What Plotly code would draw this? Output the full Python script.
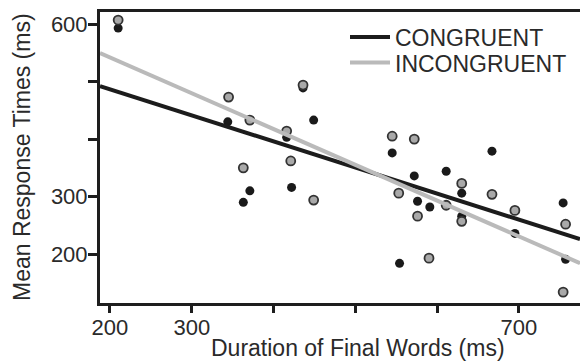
import numpy as np
import plotly.graph_objects as go

# Per-item durations (ms) and mean response times (ms)
cong_dur = [210, 344, 436, 449, 416, 422, 371, 363, 545, 572,
            611, 630, 576, 591, 630, 554, 667, 695, 754, 757]
cong_rt = [593, 430, 489, 433, 403, 316, 310, 290, 376, 336,
           344, 306, 292, 282, 266, 184, 379, 236, 289, 191]

incong_dur = [210, 345, 371, 436, 416, 421, 363, 449, 545, 572,
              630, 553, 611, 576, 630, 590, 667, 695, 757, 754]
incong_rt = [607, 473, 433, 494, 414, 362, 350, 294, 405, 400,
             323, 306, 285, 266, 257, 193, 304, 276, 252, 134]

# Linear fits: [intercept, slope]
cong_fit = [577.4, -0.4535]
incong_fit = [666.5, -0.6225]

x_range = [187.8, 774.6]
y_range = [115, 621]

x_ticks = [200, 300, 400, 500, 600, 700]
x_ticktext = ["200", "300", "", "", "", "700"]
y_ticks = [200, 300, 400, 500, 600]
y_ticktext = ["200", "300", "", "", "600"]

FONT = "Liberation Sans, Arial, Helvetica, sans-serif"
TEXT = "#2a2a2a"
AXIS = "#1e1e1e"

fit_x = np.array(x_range)

fig = go.Figure()

# Scatter points (congruent: solid black; incongruent: grey with dark rim)
fig.add_trace(go.Scatter(
    x=cong_dur, y=cong_rt, mode="markers", showlegend=False,
    marker=dict(size=9, color="#1a1a1a", line=dict(width=0)),
))
fig.add_trace(go.Scatter(
    x=incong_dur, y=incong_rt, mode="markers", showlegend=False,
    marker=dict(size=9, color="#a9a9a9", line=dict(width=1.8, color="#333333")),
))

# Regression lines, each with its own legend box
fig.add_trace(go.Scatter(
    x=fit_x, y=cong_fit[0] + cong_fit[1] * fit_x, mode="lines",
    name="CONGRUENT", line=dict(color="#1c1c1c", width=4), legend="legend",
))
fig.add_trace(go.Scatter(
    x=fit_x, y=incong_fit[0] + incong_fit[1] * fit_x, mode="lines",
    name="INCONGRUENT", line=dict(color="#bababa", width=4), legend="legend2",
))

legend_common = dict(xanchor="left", yanchor="top", bgcolor="rgba(0,0,0,0)",
                     font=dict(size=23, color=TEXT), itemwidth=40)

fig.update_layout(
    width=580, height=362,
    margin=dict(l=100, r=0, t=12, b=59),
    paper_bgcolor="white", plot_bgcolor="white",
    font=dict(family=FONT, size=22, color=TEXT),
    legend=dict(x=(345 - 100) / 480, y=0.988, **legend_common),
    legend2=dict(x=(345 - 100) / 480, y=0.90, **legend_common),
    xaxis=dict(
        range=x_range, showgrid=False, zeroline=False,
        showline=True, linecolor=AXIS, linewidth=3, mirror=True,
        ticks="outside", ticklen=7, tickwidth=3, tickcolor=AXIS,
        tickvals=x_ticks, ticktext=x_ticktext, ticklabelstandoff=-4,
        tickfont=dict(size=22, color=TEXT),
    ),
    yaxis=dict(
        range=y_range, showgrid=False, zeroline=False,
        showline=True, linecolor=AXIS, linewidth=3,
        ticks="outside", ticklen=9, tickwidth=3, tickcolor=AXIS,
        tickvals=y_ticks, ticktext=y_ticktext, ticklabelstandoff=-4,
        tickfont=dict(size=22, color=TEXT),
    ),
    annotations=[
        dict(text="Duration of Final Words (ms)", xref="paper", yref="paper",
             x=(358 - 100) / 480, y=-(348 - 303) / 291,
             xanchor="center", yanchor="middle", showarrow=False,
             font=dict(size=23, color=TEXT)),
        dict(text="Mean Response Times (ms)", xref="paper", yref="paper",
             x=-(100 - 22) / 480, y=1 - (157 - 12) / 291, textangle=-90,
             xanchor="center", yanchor="middle", showarrow=False,
             font=dict(size=23, color=TEXT)),
    ],
)

fig.write_html("out.html")
